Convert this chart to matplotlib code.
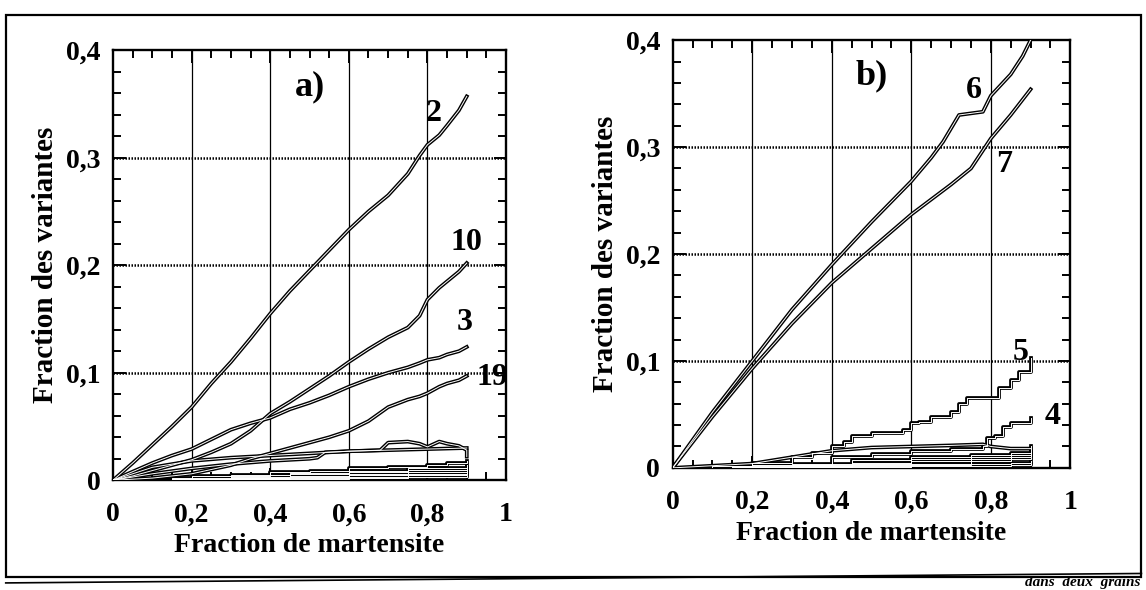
import matplotlib
matplotlib.use("Agg")
import matplotlib.pyplot as plt
from matplotlib.ticker import MultipleLocator, FuncFormatter
from matplotlib.patches import Rectangle

plt.rcParams['font.family'] = ['Liberation Serif', 'DejaVu Serif']
plt.rcParams['font.weight'] = 'bold'
plt.rcParams['axes.labelweight'] = 'bold'

# ---- panel a) : fraction of each variant vs martensite fraction ----
xa = [0, 0.05, 0.1, 0.15, 0.2, 0.25, 0.3, 0.35, 0.4, 0.45, 0.5, 0.55,
      0.6, 0.65, 0.7, 0.75, 0.78, 0.8, 0.83, 0.85, 0.88, 0.9]
a_v2 = [0, 0.016, 0.033, 0.05, 0.068, 0.09, 0.11, 0.132, 0.155, 0.176, 0.195, 0.214,
        0.233, 0.25, 0.265, 0.285, 0.302, 0.312, 0.321, 0.33, 0.344, 0.357]
a_v10 = [0, 0.004, 0.009, 0.014, 0.019, 0.026, 0.034, 0.046, 0.062, 0.073, 0.085, 0.097,
         0.11, 0.122, 0.133, 0.142, 0.153, 0.168, 0.179, 0.185, 0.194, 0.202]
a_v3 = [0, 0.008, 0.016, 0.023, 0.029, 0.038, 0.047, 0.053, 0.058, 0.066, 0.072, 0.079,
        0.087, 0.094, 0.1, 0.105, 0.109, 0.112, 0.114, 0.117, 0.12, 0.124]
a_v19 = [0, 0.001, 0.002, 0.004, 0.006, 0.01, 0.014, 0.02, 0.025, 0.03, 0.035, 0.04,
         0.046, 0.055, 0.068, 0.075, 0.078, 0.081, 0.087, 0.09, 0.093, 0.097]

# small variants of panel a (own x values, they are step-like)
a_p1_x = [0, 0.1, 0.2, 0.3, 0.4, 0.5, 0.52, 0.54, 0.6, 0.68, 0.7, 0.75, 0.78, 0.8, 0.83, 0.85, 0.88, 0.9, 0.9]
a_p1_y = [0, 0.006, 0.011, 0.015, 0.018, 0.02, 0.021, 0.026, 0.027, 0.028, 0.035, 0.036,
          0.034, 0.031, 0.036, 0.034, 0.032, 0.028, 0.022]
a_p2_x = [0, 0.1, 0.2, 0.3, 0.4, 0.5, 0.6, 0.7, 0.8, 0.9]
a_p2_y = [0, 0.012, 0.018, 0.021, 0.023, 0.025, 0.027, 0.028, 0.029, 0.03]
a_p3_x = [0, 0.2, 0.4, 0.5, 0.6, 0.7, 0.8, 0.85, 0.9]
a_p3_y = [0, 0.004, 0.008, 0.009, 0.011, 0.012, 0.014, 0.016, 0.018]
a_low_x = [0, 0.15, 0.3, 0.45, 0.6, 0.75, 0.9]
a_low = [
    [0, 0.002, 0.005, 0.007, 0.009, 0.011, 0.014],
    [0, 0.001, 0.003, 0.006, 0.008, 0.01, 0.012],
    [0, 0.001, 0.002, 0.004, 0.006, 0.008, 0.01],
    [0, 0.0, 0.002, 0.003, 0.005, 0.006, 0.008],
    [0, 0.001, 0.001, 0.002, 0.003, 0.005, 0.006],
    [0, 0.0, 0.001, 0.001, 0.002, 0.003, 0.004],
]

# ---- panel b) ----
b_v6_x = [0, 0.1, 0.2, 0.3, 0.4, 0.5, 0.6, 0.65, 0.68, 0.72, 0.78, 0.8, 0.85, 0.88, 0.9]
b_v6_y = [0, 0.052, 0.1, 0.148, 0.19, 0.23, 0.268, 0.29, 0.305, 0.33, 0.333, 0.348,
          0.368, 0.385, 0.4]
b_v7_x = [0, 0.1, 0.2, 0.3, 0.4, 0.5, 0.6, 0.7, 0.75, 0.8, 0.85, 0.9]
b_v7_y = [0, 0.048, 0.093, 0.135, 0.173, 0.205, 0.237, 0.265, 0.28, 0.308, 0.33, 0.354]
b_v5_x = [0, 0.1, 0.2, 0.3, 0.35, 0.4, 0.43, 0.45, 0.5, 0.58, 0.6, 0.62, 0.65, 0.7, 0.72,
          0.74, 0.8, 0.82, 0.85, 0.87, 0.9]
b_v5_y = [0, 0.002, 0.005, 0.01, 0.014, 0.02, 0.024, 0.03, 0.033, 0.035, 0.042, 0.043,
          0.048, 0.052, 0.06, 0.065, 0.065, 0.075, 0.082, 0.09, 0.103]
b_v4_x = [0, 0.2, 0.4, 0.5, 0.6, 0.7, 0.78, 0.79, 0.81, 0.83, 0.85, 0.9]
b_v4_y = [0, 0.003, 0.01, 0.013, 0.016, 0.018, 0.02, 0.028, 0.03, 0.038, 0.042, 0.047]
b_p1_x = [0, 0.2, 0.3, 0.4, 0.5, 0.6, 0.7, 0.78, 0.8, 0.85, 0.9]
b_p1_y = [0, 0.004, 0.01, 0.016, 0.019, 0.02, 0.021, 0.022, 0.02, 0.018, 0.018]
b_low_x = [0, 0.15, 0.3, 0.45, 0.6, 0.75, 0.85, 0.9]
b_low = [
    [0, 0.002, 0.004, 0.007, 0.01, 0.012, 0.014, 0.02],
    [0, 0.001, 0.003, 0.005, 0.008, 0.01, 0.012, 0.015],
    [0, 0.001, 0.002, 0.004, 0.006, 0.008, 0.01, 0.012],
    [0, 0.0, 0.002, 0.003, 0.004, 0.006, 0.008, 0.009],
    [0, 0.001, 0.001, 0.002, 0.003, 0.004, 0.005, 0.006],
    [0, 0.0, 0.001, 0.001, 0.002, 0.002, 0.003, 0.004],
]

x_ticks = [0, 0.2, 0.4, 0.6, 0.8, 1]
y_ticks = [0, 0.1, 0.2, 0.3, 0.4]


def comma(v, pos):
    if abs(v) < 1e-9:
        return "0"
    if abs(v - 1) < 1e-9:
        return "1"
    return ("%.1f" % v).replace(".", ",")


def hollow(ax, x, y, steps=False):
    # scanned curves look like a double (outlined) line
    ds = 'steps-post' if steps else 'default'
    ax.plot(x, y, color='black', lw=2.7, drawstyle=ds, solid_joinstyle='round', zorder=3)
    ax.plot(x, y, color='white', lw=0.7, drawstyle=ds, solid_joinstyle='round', zorder=4)


def setup(ax):
    ax.set_xlim(0, 1)
    ax.set_ylim(0, 0.4)
    ax.set_xticks(x_ticks)
    ax.set_yticks(y_ticks)
    ax.xaxis.set_minor_locator(MultipleLocator(0.05))
    ax.yaxis.set_minor_locator(MultipleLocator(0.02))
    ax.xaxis.set_major_formatter(FuncFormatter(comma))
    ax.yaxis.set_major_formatter(FuncFormatter(comma))
    ax.tick_params(which='both', direction='in', top=True, right=True, width=1.4)
    ax.tick_params(which='major', length=9)
    ax.tick_params(which='minor', length=6)
    ax.tick_params(axis='x', labelsize=20, pad=16)
    ax.tick_params(axis='y', labelsize=20, pad=9)
    for s in ax.spines.values():
        s.set_linewidth(1.7)
    for xv in x_ticks[1:-1]:
        ax.axvline(xv, color='black', lw=0.9, zorder=1)
    for yv in y_ticks[1:-1]:
        ax.axhline(yv, color='black', lw=1.8, ls=(0, (0.6, 0.6)), zorder=1)
    ax.set_xlabel("Fraction de martensite", fontsize=20, labelpad=4)
    ax.set_ylabel("Fraction des variantes", fontsize=21, labelpad=5)


fig = plt.figure(figsize=(11.46, 5.9), dpi=100)
ax_a = fig.add_axes([0.0986, 0.186, 0.343, 0.729])
ax_b = fig.add_axes([0.587, 0.207, 0.347, 0.725])

# panel a
setup(ax_a)
for ys in a_low:
    hollow(ax_a, a_low_x, ys, steps=True)
hollow(ax_a, a_p3_x, a_p3_y, steps=True)
hollow(ax_a, a_p2_x, a_p2_y)
hollow(ax_a, a_p1_x, a_p1_y)
hollow(ax_a, xa, a_v19)
hollow(ax_a, xa, a_v3)
hollow(ax_a, xa, a_v10)
hollow(ax_a, xa, a_v2)
ax_a.text(0.5, 0.366, "a)", fontsize=26, ha='center', va='center')
ax_a.text(0.815, 0.341, "2", fontsize=23, ha='center', va='center')
ax_a.text(0.9, 0.221, "10", fontsize=23, ha='center', va='center')
ax_a.text(0.895, 0.147, "3", fontsize=23, ha='center', va='center')
ax_a.text(0.965, 0.096, "19", fontsize=23, ha='center', va='center')

# panel b
setup(ax_b)
for ys in b_low:
    hollow(ax_b, b_low_x, ys, steps=True)
hollow(ax_b, b_p1_x, b_p1_y)
hollow(ax_b, b_v4_x, b_v4_y, steps=True)
hollow(ax_b, b_v5_x, b_v5_y, steps=True)
hollow(ax_b, b_v7_x, b_v7_y)
hollow(ax_b, b_v6_x, b_v6_y)
ax_b.text(0.5, 0.367, "b)", fontsize=26, ha='center', va='center')
ax_b.text(0.758, 0.353, "6", fontsize=23, ha='center', va='center')
ax_b.text(0.833, 0.284, "7", fontsize=23, ha='center', va='center')
ax_b.text(0.876, 0.108, "5", fontsize=23, ha='center', va='center')
ax_b.text(0.955, 0.048, "4", fontsize=23, ha='center', va='center')

# outer frame of the scanned figure
fig.patches.append(Rectangle((0.005, 0.022), 0.991, 0.953, transform=fig.transFigure,
                             fill=False, lw=1.6, color='black'))
fig.add_artist(plt.Line2D([0.005, 0.996], [0.012, 0.028], transform=fig.transFigure,
                          color='black', lw=1.2))
# caption fragment below the frame
fig.text(0.995, 0.001, "dans  deux  grains", ha='right', va='bottom',
         fontsize=11, style='italic')

fig.savefig("out.png", dpi=100)
